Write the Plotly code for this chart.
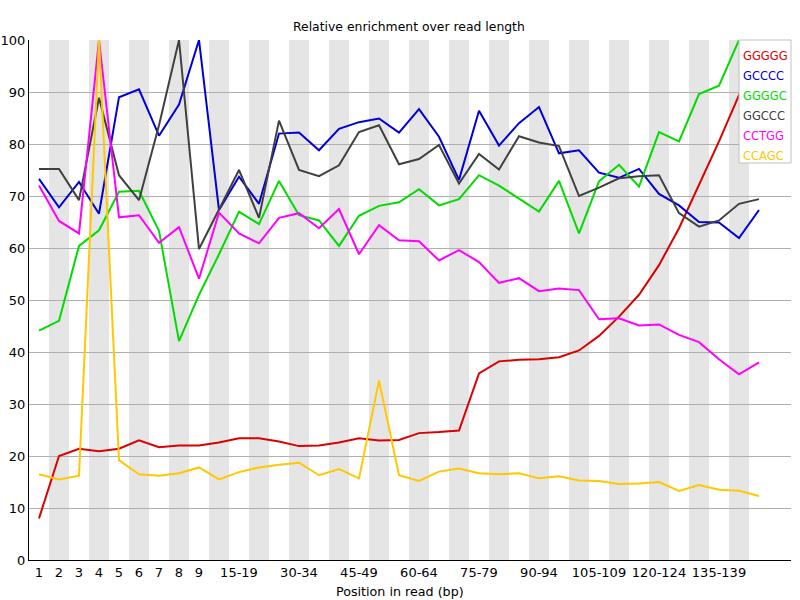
import plotly.graph_objects as go

categories = ["1", "2", "3", "4", "5", "6", "7", "8", "9",
              "10-14", "15-19", "20-24", "25-29", "30-34", "35-39", "40-44", "45-49",
              "50-54", "55-59", "60-64", "65-69", "70-74", "75-79", "80-84", "85-89",
              "90-94", "95-99", "100-104", "105-109", "110-114", "115-119", "120-124",
              "125-129", "130-134", "135-139", "140-144", "145-149"]

shown_ticks = ["1", "2", "3", "4", "5", "6", "7", "8", "9", "15-19", "30-34", "45-49",
               "60-64", "75-79", "90-94", "105-109", "120-124", "135-139"]

GGGGG = [8.0, 20.0, 21.4, 20.9, 21.4, 23.0, 21.7, 22.0, 22.0, 22.6, 23.4, 23.4,
         22.8, 21.9, 22.0, 22.6, 23.4, 23.0, 23.1, 24.4, 24.6, 24.9, 35.9, 38.2, 38.5,
         38.6, 39.0, 40.3, 43.1, 46.8, 51.0, 56.7, 63.8, 72.3, 80.5, 89.4, 100.0]
GCCCC = [73.3, 67.8, 72.7, 66.6, 89.0, 90.5, 81.6, 87.6, 100.0, 67.3, 73.7, 68.5,
         82.0, 82.2, 78.8, 82.9, 84.2, 84.9, 82.2, 86.7, 81.4, 73.1, 86.4, 79.7, 84.0,
         87.1, 78.2, 78.8, 74.5, 73.5, 75.2, 70.4, 68.2, 65.0, 64.9, 61.9, 67.3]
GGGGC = [44.1, 46.0, 60.4, 63.4, 70.8, 71.0, 63.3, 42.1, 51.0, 58.8, 67.0, 64.6,
         72.9, 66.3, 65.3, 60.4, 66.2, 68.1, 68.8, 71.3, 68.2, 69.4, 74.0, 72.0, 69.5,
         67.0, 72.9, 62.8, 72.8, 76.0, 71.8, 82.3, 80.5, 89.6, 91.2, 100.0, 96.0]
GGCCC = [75.2, 75.2, 69.2, 88.9, 74.0, 69.2, 83.6, 100.0, 59.8, 67.5, 75.0, 65.8,
         84.5, 75.0, 73.8, 75.9, 82.3, 83.6, 76.1, 77.1, 79.8, 72.4, 78.1, 75.1, 81.5,
         80.3, 79.6, 70.0, 71.6, 73.4, 73.8, 74.0, 66.7, 64.1, 65.3, 68.5, 69.4]
CCTGG = [72.0, 65.2, 62.8, 100.0, 65.9, 66.3, 61.0, 64.0, 54.1, 66.8, 62.8, 60.9,
         65.8, 66.7, 63.8, 67.5, 58.8, 64.4, 61.5, 61.3, 57.6, 59.6, 57.3, 53.3, 54.2,
         51.7, 52.2, 51.9, 46.3, 46.5, 45.1, 45.3, 43.3, 41.9, 38.6, 35.7, 38.0]
CCAGC = [16.5, 15.5, 16.2, 100.0, 19.2, 16.5, 16.2, 16.7, 17.8, 15.5, 16.9, 17.8,
         18.3, 18.7, 16.3, 17.5, 15.7, 34.5, 16.3, 15.2, 17.0, 17.6, 16.7, 16.5, 16.7,
         15.7, 16.1, 15.3, 15.2, 14.6, 14.7, 15.0, 13.3, 14.4, 13.5, 13.3, 12.3]

series_names = ["GGGGG", "GCCCC", "GGGGC", "GGCCC", "CCTGG", "CCAGC"]
series_values = [GGGGG, GCCCC, GGGGC, GGCCC, CCTGG, CCAGC]
series_colors = ["#dc0000", "#0000dc", "#00dc00", "#404040", "#ff00ff", "#ffc800"]

FONT = "DejaVu Sans"

fig = go.Figure()

for name, vals, col in zip(series_names, series_values, series_colors):
    fig.add_trace(go.Scatter(x=categories, y=vals, mode="lines", name=name,
                             line=dict(color=col, width=2), showlegend=False,
                             cliponaxis=True))

shapes = []
# alternating background stripes
for i in range(len(categories)):
    if i % 2 == 1:
        shapes.append(dict(type="rect", xref="x", yref="paper", x0=i - 0.5, x1=i + 0.5,
                           y0=0, y1=1, fillcolor="#e5e5e5", line=dict(width=0),
                           layer="below"))

# legend box (drawn manually: text only)
leg_x0 = 0.9318
leg_y1 = 1.0
leg_y0 = 0.7635
shapes.append(dict(type="rect", xref="paper", yref="paper", x0=leg_x0, x1=1.0,
                   y0=leg_y0, y1=leg_y1, fillcolor="white",
                   line=dict(color="#c0c0c0", width=1), layer="above"))

annotations = []
for k, (name, col) in enumerate(zip(series_names, series_colors)):
    annotations.append(dict(xref="paper", yref="paper", x=leg_x0 + 0.003,
                            y=0.970 - k * 0.03846, xanchor="left", yanchor="middle",
                            text=name, showarrow=False,
                            font=dict(family=FONT, size=11.5, color=col)))

annotations.append(dict(xref="paper", yref="paper", x=0.4987, y=(560 - 26) / 520,
                        xanchor="center", yanchor="middle",
                        text="Relative enrichment over read length", showarrow=False,
                        font=dict(family=FONT, size=12.4, color="black")))
annotations.append(dict(xref="paper", yref="paper", x=0.4869, y=(560 - 591) / 520,
                        xanchor="center", yanchor="middle",
                        text="Position in read (bp)", showarrow=False,
                        font=dict(family=FONT, size=12.7, color="black")))

fig.update_layout(
    width=800, height=600,
    margin=dict(l=29, r=9, t=40, b=40),
    plot_bgcolor="white", paper_bgcolor="white",
    shapes=shapes, annotations=annotations,
    font=dict(family=FONT, size=13, color="black"),
    showlegend=False,
)
fig.update_xaxes(type="category", categoryorder="array", categoryarray=categories,
                 range=[-0.5, 37.6], tickmode="array", tickvals=shown_ticks,
                 ticktext=shown_ticks, showgrid=False, zeroline=False, automargin=False,
                 showline=True, linecolor="black", linewidth=1, ticks="",
                 tickfont=dict(family=FONT, size=13, color="black"))
fig.update_yaxes(range=[0, 100], tickmode="array", tickvals=list(range(0, 101, 10)),
                 showgrid=True, gridcolor="#b0b0b0", gridwidth=1, zeroline=False,
                 automargin=False, ticklabelstandoff=0,
                 showline=True, linecolor="black", linewidth=1, ticks="",
                 tickfont=dict(family=FONT, size=13, color="black"))

fig.write_html("out.html")
